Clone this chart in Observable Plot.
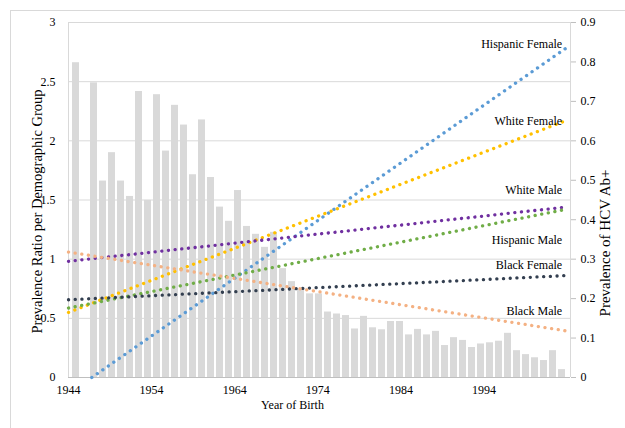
<!DOCTYPE html>
<html><head><meta charset="utf-8">
<script src="https://cdn.jsdelivr.net/npm/d3@7"></script>
<script src="https://cdn.jsdelivr.net/npm/@observablehq/plot@0.6"></script>
<style>
body{margin:0;background:#fff;}
#chart{position:relative;width:625px;height:428px;overflow:hidden;}
#chart svg{position:absolute;left:0;top:0;background:transparent !important;}
#chart svg, #chart svg text{font-family:"Liberation Serif","Times New Roman",serif !important;}
#border{position:absolute;left:10px;top:10px;width:800px;height:600px;border-top:1px solid #d9d9d9;border-left:1px solid #d9d9d9;}
</style></head><body><div id="chart"><div id="border"></div></div>
<script>
// Bars: prevalence of HCV Ab+ by year of birth (right axis)
const birthYears = [1944,1945,1946,1947,1948,1949,1950,1951,1952,1953,1954,1955,1956,1957,1958,1959,1960,1961,1962,1963,1964,1965,1966,1967,1968,1969,1970,1971,1972,1973,1974,1975,1976,1977,1978,1979,1980,1981,1982,1983,1984,1985,1986,1987,1988,1989,1990,1991,1992,1993,1994,1995,1996,1997,1998];
const hcvPrevalence = [0.798,0,0.747,0.498,0.570,0.498,0.459,0.725,0.449,0.717,0.574,0.690,0.640,0.514,0.653,0.507,0.432,0.396,0.474,0.383,0.363,0.330,0.368,0.276,0.243,0.225,0.212,0.212,0.166,0.161,0.157,0.123,0.155,0.126,0.121,0.142,0.142,0.108,0.122,0.108,0.117,0.081,0.101,0.094,0.076,0.085,0.088,0.092,0.112,0.068,0.058,0.050,0.043,0.068,0.020];

// Trend lines: prevalence ratio per demographic group (left axis)
const groups = ["Hispanic Female","White Female","White Male","Hispanic Male","Black Female","Black Male"];
const groupColors = ["#5B9BD5","#FFC000","#7030A0","#70AD47","#333F50","#F4B183"];
const trendStartYear = [1946.8,1944,1944,1944,1944,1944];
const trendStartRatio = [0,0.55,0.982,0.587,0.657,1.06];
const trendEndYear = [2004,2004,2004,2004,2004,2004];
const trendEndRatio = [2.79,2.175,1.441,1.423,0.862,0.392];
const labelRatio = [2.815,2.164,1.58,1.158,0.947,0.558];

// Axes
const leftTicks = [0,0.5,1,1.5,2,2.5,3];
const rightTicks = [0,0.1,0.2,0.3,0.4,0.5,0.6,0.7,0.8,0.9];
const xTicks = [1944,1954,1964,1974,1984,1994];
const xDomain = [1944,2004.4];

const W = 625, H = 428;
const margins = {marginLeft:68, marginRight:55, marginTop:22, marginBottom:51};
const font = {fontFamily:'"Liberation Serif", serif', fontSize:"12px", background:"transparent", color:"#000"};

const barData = birthYears.map((year,i)=>({year, value:hcvPrevalence[i]}));
const lineData = groups.flatMap((g,i)=>[
  {group:g, year:trendStartYear[i], ratio:trendStartRatio[i]},
  {group:g, year:trendEndYear[i], ratio:trendEndRatio[i]}
]);
const labelData = groups.map((g,i)=>({group:g, year:trendEndYear[i], ratio:labelRatio[i]}));

const bars = Plot.plot({
  width:W, height:H, ...margins, style:font,
  x:{type:"band", domain:birthYears, padding:0.17, axis:null},
  y:{domain:[0,0.9], axis:null},
  marks:[
    Plot.barY(barData,{x:"year", y:"value", fill:"#D9D9D9"}),
    Plot.axisY(rightTicks,{anchor:"right", label:null, tickSize:5, tickPadding:5, stroke:"#BFBFBF", fill:"#000",
      tickFormat:d=>d===0?"0":d.toFixed(1)})
  ]
});

const lines = Plot.plot({
  width:W, height:H, ...margins, style:font,
  x:{domain:xDomain, axis:null},
  y:{domain:[0,3], axis:null},
  color:{domain:groups, range:groupColors},
  marks:[
    Plot.ruleY(leftTicks.filter(d=>d>0),{stroke:"#D9D9D9", strokeWidth:1}),
    Plot.ruleY([0],{stroke:"#BFBFBF"}),
    Plot.ruleX(xDomain,{stroke:"#D9D9D9"}),
    Plot.axisY(leftTicks,{anchor:"left", label:null, tickSize:0, tickPadding:13, tickFormat:d=>String(d)}),
    Plot.axisX(xTicks,{anchor:"bottom", label:null, tickSize:0, tickPadding:8, tickFormat:d=>String(d)}),
    Plot.line(lineData,{x:"year", y:"ratio", z:"group", stroke:"group", strokeWidth:3.3,
      strokeDasharray:"0.1 6.6", strokeLinecap:"round"}),
    Plot.text(labelData,{x:"year", y:"ratio", text:"group", textAnchor:"end", dx:-5, fill:"#000"}),
    Plot.text(["Prevalence Ratio per Demographic Group"],{frameAnchor:"left", textAnchor:"middle", rotate:-90, dx:-31, dy:11.5, fontSize:14.5, fill:"#000"}),
    Plot.text(["Prevalence of HCV Ab+"],{frameAnchor:"right", textAnchor:"middle", rotate:-90, dx:35, dy:43, fontSize:15, fill:"#000"}),
    Plot.text(["Year of Birth"],{frameAnchor:"bottom", textAnchor:"middle", dx:-27, dy:31, fontSize:12, fill:"#000"})
  ]
});

const chart = document.getElementById("chart");
chart.appendChild(bars);
chart.appendChild(lines);
</script>
</body></html>
